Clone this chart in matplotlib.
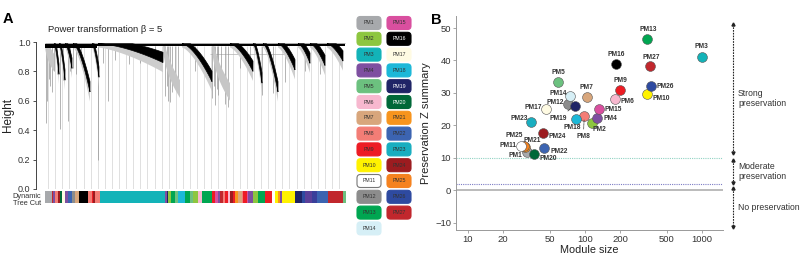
import matplotlib
matplotlib.use("Agg")
import matplotlib.pyplot as plt
import numpy as np
import matplotlib.transforms as mtransforms
from matplotlib.patches import FancyBboxPatch, Polygon

plt.rcParams['font.family'] = ['Liberation Sans', 'DejaVu Sans']

# ---- module colours (PM1..PM27)
modules = ['PM%d' % i for i in range(1, 28)]
module_colors = ['#a7a9ac', '#8dc63f', '#13b3b8', '#7e4fa0', '#6cc17f', '#f7b8cf',
                 '#d8a67c', '#f37d76', '#ed1c24', '#fff200', '#ffffff', '#8c8c8c',
                 '#00a651', '#d6eff6', '#d94f9f', '#000000', '#fffbe3', '#1cb8d8',
                 '#1f2466', '#006838', '#f7941d', '#3c64b1', '#19aec0', '#9c1c20',
                 '#f5821f', '#2e4aa0', '#c1272d']

# ---- panel B data
module_size = [32, 115, 1000, 126, 59, 180, 105, 99, 200, 340, 28.5, 72, 340, 75,
               131, 185, 47, 84, 82, 37, 31, 45, 35, 44, 30, 370, 360]
zsummary = [11.8, 20.9, 41.2, 22.3, 33.4, 28.1, 28.8, 23.0, 30.9, 29.7, 13.8, 26.6,
            46.5, 29.1, 25.2, 39.0, 25.2, 22.1, 26.1, 11.1, 13.5, 13.2, 21.0, 17.8,
            13.7, 32.2, 38.3]

# ---- dendrogram (x in leaf units 0..301)
clusters_x0 = [0, 9, 14, 20, 28, 47, 53, 118, 137, 167, 185, 208, 218, 233, 253, 265, 282]
clusters_x1 = [9, 14, 20, 27, 45, 54, 118, 135, 167, 185, 208, 217, 233, 250, 265, 280, 298]
clusters_low = [0.80, 0.78, 0.74, 0.82, 0.66, 0.76, 0.86, 0.62, 0.73, 0.60, 0.80, 0.72,
                0.66, 0.81, 0.855, 0.84, 0.87]
clusters_dense_grey = [True, False, False, False, False, False, False, True, False, True,
                       False, False, False, False, False, False, False]
spike_x = [0.7, 2, 3.5, 5, 7, 8.5, 12, 15, 18, 22.7, 25, 28, 31, 36, 52.7, 58, 63, 70,
           84, 95, 110, 120, 122, 123, 125, 127, 130, 133, 150, 167, 169, 170, 172, 173,
           176, 180, 183, 195, 205, 217, 228, 240, 260, 275]
spike_low = [0.45, 0.60, 0.75, 0.70, 0.66, 0.80, 0.78, 0.41, 0.74, 0.46, 0.80, 0.82,
             0.78, 0.85, 0.20, 0.86, 0.60, 0.88, 0.85, 0.86, 0.84, 0.63, 0.70, 0.60,
             0.59, 0.66, 0.70, 0.75, 0.80, 0.62, 0.70, 0.57, 0.68, 0.64, 0.72, 0.58,
             0.56, 0.82, 0.78, 0.64, 0.65, 0.73, 0.80, 0.78]

# ---- dynamic tree cut colour bar
cut_widths = [6.7, 1.6, 1.7, 3, 2, 1.7, 3.3, 3.3, 3.3, 3.3, 4, 9.3, 3.3, 1.7, 1.7, 5,
              65, 2, 1.5, 2.5, 4, 3.3, 6.7, 5, 3, 5, 3.7, 10, 3.3, 3.3, 1.7, 3.3, 1.7,
              3.3, 1.7, 3.3, 1.7, 3.3, 3.3, 1.7, 3.3, 1.7, 5, 5, 6.7, 6.7, 3.3, 3.3,
              1.7, 1.7, 13.3, 6.7, 3.3, 6.7, 5, 11.7, 15, 2.7]
cut_colors = ['#a7a9ac', '#c1272d', '#7e4fa0', '#f37d76', '#9c1c20', '#006838',
              '#fffbe3', '#7e4fa0', '#3c64b1', '#8c8c8c', '#d8a67c', '#000000',
              '#f37d76', '#ed1c24', '#9c1c20', '#f37d76', '#13b3b8', '#7e4fa0',
              '#1f2466', '#8dc63f', '#00a651', '#6cc17f', '#1cb8d8', '#00a651',
              '#6cc17f', '#8dc63f', '#f7b8cf', '#00a651', '#ed1c24', '#d94f9f',
              '#7e4fa0', '#c1272d', '#f37d76', '#ed1c24', '#f7b8cf', '#9c1c20',
              '#ed1c24', '#f7941d', '#d8a67c', '#f37d76', '#ed1c24', '#d94f9f',
              '#7e4fa0', '#8dc63f', '#00a651', '#ed1c24', '#ffffff', '#fff200',
              '#f7941d', '#7e4fa0', '#fff200', '#1f2466', '#2e4aa0', '#5b3f99',
              '#3a3f9a', '#3c64b1', '#c1272d', '#6cc17f']

fig = plt.figure(figsize=(8, 2.59), dpi=100)
W, H = 800.0, 259.0

# ================= panel A =================
axA = fig.add_axes([36 / W, 1 - 189 / H, 311 / W, 147 / H])
axA.set_xlim(-9, 302)
axA.set_ylim(0, 1.0)
for s in ['top', 'right', 'bottom']:
    axA.spines[s].set_visible(False)
axA.spines['left'].set_color('#444')
axA.spines['left'].set_linewidth(0.7)
axA.set_xticks([])
axA.set_yticks([0, 0.2, 0.4, 0.6, 0.8, 1.0])
axA.set_yticklabels(['0.0', '0.2', '0.4', '0.6', '0.8', '1.0'])
axA.tick_params(axis='y', labelsize=6.5, length=2.5, width=0.6, pad=1.5, colors='#333')
axA.set_ylabel('Height', fontsize=8.5, labelpad=3, color='#222')

axA.vlines(np.arange(3, 301, 7.1), 0, 0.975, color='#e0e0e0', lw=0.7, zorder=0)
axA.hlines(0.99, 0, 300, color='#9a9a9a', lw=0.6, zorder=1)
axA.hlines(0.92, 165, 245, color='#b0b0b0', lw=0.5, zorder=1)
axA.vlines(spike_x, spike_low, 0.97, color='#8a8a8a', lw=0.45, zorder=2)

top = 0.988
# thick black band across the left-hand modules
axA.fill_between([0, 52], 0.96, top, color='black', lw=0, zorder=3)
axA.fill_between([52, 300], 0.975, top, color='black', lw=0, zorder=3)
for x0, x1, low, grey in zip(clusters_x0, clusters_x1, clusters_low, clusters_dense_grey):
    t = np.linspace(0, 1, 50)
    xs = x0 + (x1 - x0) * t
    if grey:
        edge = top - (top - low) * t ** 0.5
        upper = np.minimum(top, edge + 0.12)
        poly = np.column_stack([np.r_[xs, xs[::-1]], np.r_[edge, upper[::-1]]])
        axA.add_patch(Polygon(poly, closed=True, fc='#c6c6c6', ec='none', zorder=2))
    else:
        edge = top - (top - low) * t ** 1.6
        # grey fringe hanging below the black band
        fringe = edge - 0.025 - 0.04 * t
        poly = np.column_stack([np.r_[xs, xs[::-1]], np.r_[fringe, edge[::-1]]])
        axA.add_patch(Polygon(poly, closed=True, fc='#cdcdcd', ec='none', zorder=2))
        upper = np.minimum(top, edge + 0.02 + 0.05 * t)
        poly = np.column_stack([np.r_[xs, xs[::-1]], np.r_[edge, upper[::-1]]])
        axA.add_patch(Polygon(poly, closed=True, fc='black', ec='black', lw=0.5, zorder=3))

fig.text(48 / W, 1 - 30 / H, 'Power transformation \u03b2 = 5', fontsize=6.8,
         va='center', ha='left', color='#222')

# colour bar
axC = fig.add_axes([45 / W, 1 - 203 / H, 301 / W, 12 / H])
lefts = np.r_[0, np.cumsum(cut_widths)[:-1]]
axC.barh(0.5, cut_widths, left=lefts, height=1, color=cut_colors, edgecolor='none')
axC.set_xlim(0, 301)
axC.set_ylim(0, 1)
axC.axis('off')
fig.text(41 / W, 1 - 200 / H, 'Dynamic\nTree Cut', fontsize=5.3, ha='right',
         va='center', linespacing=1.0, color='#333')

# legend boxes
axL = fig.add_axes([0, 0, 1, 1], zorder=-1)
axL.set_xlim(0, W)
axL.set_ylim(H, 0)
axL.axis('off')
dark = {'PM16', 'PM19', 'PM20'}
for i, (name, col) in enumerate(zip(modules, module_colors)):
    c, r = divmod(i, 14)
    x = 357 + 30 * c
    yc = 23 + 15.8 * r
    ec = '#777' if name == 'PM11' else col
    axL.add_patch(FancyBboxPatch((x, yc - 6.5), 24, 13,
                                 boxstyle='round,pad=0,rounding_size=3.5',
                                 fc=col, ec=ec, lw=0.8))
    axL.text(x + 12, yc, name, fontsize=3.8, ha='center', va='center',
             color='white' if name in dark else '#333')

fig.text(8 / W, 1 - 19 / H, 'A', fontsize=10.5, fontweight='bold', ha='center', va='center')
fig.text(436 / W, 1 - 20 / H, 'B', fontsize=10.5, fontweight='bold', ha='center', va='center')

# ================= panel B =================
axB = fig.add_axes([456 / W, 1 - 230 / H, 267 / W, 214 / H])
axB.set_xscale('log')
axB.set_xlim(10 ** 0.9, 10 ** 3.18)
axB.set_ylim(-12.2, 53.7)
for s in ['top', 'right']:
    axB.spines[s].set_visible(False)
for s in ['left', 'bottom']:
    axB.spines[s].set_color('#999')
    axB.spines[s].set_linewidth(0.7)
axB.set_yticks([-10, 0, 10, 20, 30, 40, 50])
axB.set_xticks([10, 20, 50, 100, 200, 500, 1000])
axB.set_xticklabels(['10', '20', '50', '100', '200', '500', '1000'])
axB.xaxis.set_minor_locator(matplotlib.ticker.NullLocator())
axB.tick_params(labelsize=6.8, length=2, width=0.6, pad=1.5, colors='#333')
axB.tick_params(color='#999')
axB.set_xlabel('Module size', fontsize=7.8, labelpad=1, color='#222')
axB.set_ylabel('Preservation Z summary', fontsize=8, labelpad=3, color='#222')

axB.axhline(10, color='#90d2c2', ls=(0, (1, 1)), lw=0.8, zorder=1)
axB.axhline(2, color='#7c7cc4', ls=(0, (1, 1)), lw=0.8, zorder=1)
axB.axhline(0, color='#b5b5b5', lw=1.3, zorder=1)

order = [i for i in range(27) if modules[i] != 'PM11'] + [modules.index('PM11')]
for i in order:
    axB.scatter(module_size[i], zsummary[i], s=50, color=module_colors[i],
                edgecolors='#555', linewidths=0.4, zorder=3)

# label offsets in pixels (dx, dy up, alignment)
label_pos = {
    'PM1': (-5, -3, 'right'), 'PM2': (7, -7, 'center'), 'PM3': (0, 10, 'center'),
    'PM4': (7, -1, 'left'), 'PM5': (0, 9.5, 'center'), 'PM6': (6, -2, 'left'),
    'PM7': (-1, 9.5, 'center'), 'PM8': (-1, -21, 'center'), 'PM9': (0, 9.5, 'center'),
    'PM10': (5.5, -5, 'left'), 'PM11': (-4.5, 0, 'right'), 'PM12': (-4, 2, 'right'),
    'PM13': (1, 10, 'center'), 'PM14': (-3.5, 2, 'right'), 'PM15': (6, -0.7, 'left'),
    'PM16': (0, 9.5, 'center'), 'PM17': (-4.5, 1, 'right'), 'PM18': (-4, -8.5, 'center'),
    'PM19': (-16, -12.5, 'center'), 'PM20': (5, -4, 'left'), 'PM21': (7, 6, 'center'),
    'PM22': (6, -4, 'left'), 'PM23': (-3.5, 4, 'right'), 'PM24': (5.5, -3.5, 'left'),
    'PM25': (-9, 10, 'center'), 'PM26': (5, -1, 'left'), 'PM27': (1, 9, 'center'),
}
for i, name in enumerate(modules):
    dx, dy, ha = label_pos[name]
    kw = dict(textcoords='offset points', fontsize=4.8, fontweight='bold',
              ha=ha, va='center', color='#333', zorder=4)
    if name == 'PM8':
        kw['arrowprops'] = dict(arrowstyle='-', lw=0.5, ls=(0, (1, 1)), color='#333',
                                shrinkA=1, shrinkB=3)
    elif name == 'PM19':
        kw['arrowprops'] = dict(arrowstyle='-', lw=0.5, color='#333', shrinkA=1, shrinkB=3)
    axB.annotate(name, (module_size[i], zsummary[i]), xytext=(dx * 0.72, dy * 0.72), **kw)

# preservation bands on the right
tr = mtransforms.blended_transform_factory(axB.transAxes, axB.transData)
xb = 1.036
for y0, y1 in [(51.2, 11.5), (9.5, 2.4), (0.7, -11.4)]:
    axB.plot([xb, xb], [y0, y1], transform=tr, clip_on=False, color='#222',
             lw=0.8, ls=(0, (1.5, 1)))
    axB.plot([xb], [y0], transform=tr, clip_on=False, marker='^', ms=2.2, color='#222')
    axB.plot([xb], [y1], transform=tr, clip_on=False, marker='v', ms=2.2, color='#222')
axB.text(1.056, 28.4, 'Strong\npreservation', transform=tr, fontsize=6.2,
         va='center', ha='left', color='#333', linespacing=1.1)
axB.text(1.056, 5.8, 'Moderate\npreservation', transform=tr, fontsize=6.2,
         va='center', ha='left', color='#333', linespacing=1.1)
axB.text(1.056, -5.2, 'No preservation', transform=tr, fontsize=6.2,
         va='center', ha='left', color='#333')

fig.savefig('out.png', dpi=100)
